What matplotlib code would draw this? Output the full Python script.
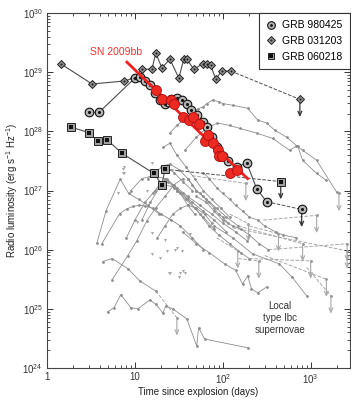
import matplotlib
matplotlib.use("Agg")
import matplotlib.pyplot as plt
import numpy as np

plt.rcParams['font.family'] = ['Liberation Sans', 'DejaVu Sans']
plt.rcParams['mathtext.fontset'] = 'custom'
plt.rcParams['mathtext.rm'] = 'Liberation Sans'
plt.rcParams['mathtext.it'] = 'Liberation Sans:italic'
plt.rcParams['font.size'] = 7

# ---- data (days, log10 luminosity) ----
# SN 2009bb
sn09_t = [17.3, 20.3, 25.6, 27.8, 35.1, 41.1, 45.7, 53.4, 62, 67.5, 77, 87.6, 90, 97.5, 120, 144]
sn09_L = [28.70, 28.54, 28.53, 28.46, 28.25, 28.19, 28.24, 28.12, 27.83, 27.93, 27.80, 27.68, 27.58, 27.58, 27.30, 27.34]
sn09_fit_t = [8.1, 192]
sn09_fit_L = [29.17, 27.20]

# GRB 980425
g98_t = [3.0, 3.9, 10, 11.5, 13, 14.8, 16.8, 19.2, 22, 24, 26, 30, 34, 39, 44, 50.6, 59, 66, 75, 87, 100, 114, 144, 187, 243, 316]
g98_L = [28.32, 28.32, 28.90, 28.92, 28.85, 28.78, 28.64, 28.53, 28.47, 28.50, 28.54, 28.56, 28.53, 28.47, 28.36, 28.27, 28.15, 28.08, 27.90, 27.73, 27.59, 27.50, 27.39, 27.47, 27.03, 26.81]
g98_lim_t = [790]
g98_lim_L = [26.68]

# GRB 031203
g03_t = [1.44, 3.25, 7.5, 9.7, 12, 15.6, 17.3, 20.3, 25, 31.6, 36, 39, 46.7, 59, 66, 73, 83, 97, 123]
g03_L = [29.14, 28.80, 28.85, 28.90, 29.05, 29.05, 29.32, 29.07, 29.22, 28.90, 29.22, 29.22, 29.05, 29.14, 29.14, 29.12, 28.88, 29.02, 29.02]
g03_lim_t = [754]
g03_lim_L = [28.54]

# GRB 060218
g06_t = [1.87, 3.0, 3.8, 4.8, 7.1, 16.4, 20.3, 22]
g06_L = [28.07, 27.98, 27.83, 27.86, 27.63, 27.29, 27.10, 27.36]
g06_lim_t = [457]
g06_lim_L = [27.15]

# local type Ibc supernovae
ibc1_t = [25, 30, 36, 44, 52, 59, 66, 77, 90, 100, 130, 192, 250, 316, 390, 533, 690, 810, 1170, 1980]
ibc1_L = [27.97, 28.10, 28.20, 28.30, 28.38, 28.41, 28.47, 28.53, 28.50, 28.47, 28.44, 28.39, 28.19, 28.14, 28.02, 27.90, 27.76, 27.68, 27.51, 26.97]
ibc2_t = [37, 50, 65, 87, 120, 156, 243, 370, 577, 710, 810, 1170, 1510]
ibc2_L = [27.68, 27.90, 28.05, 28.14, 28.10, 28.05, 27.97, 27.88, 27.68, 27.76, 27.51, 27.29, 27.17]
ibc3_t = [4.9, 5.8, 6.9, 9.0, 10.8, 14.8, 17.3, 20.8, 22.5, 27, 39, 50.6, 53, 62, 195]
ibc3_L = [24.95, 25.02, 25.24, 25.02, 25.00, 25.15, 25.08, 24.93, 25.05, 25.00, 24.83, 24.37, 24.68, 24.49, 24.34]
ibc4_t = [4.3, 5.5, 8.3, 11.4, 17.3]
ibc4_L = [25.80, 25.85, 25.68, 25.47, 25.30]
ibc5_t = [5.5, 8.3, 10.5, 13.7, 17.3, 22, 28, 35]
ibc5_L = [25.49, 25.90, 26.15, 26.49, 26.71, 26.90, 27.10, 27.20]
ibc6_t = [3.7, 4.7, 6.8, 8.5, 11, 14, 19]
ibc6_L = [26.12, 26.66, 27.19, 26.95, 26.85, 26.75, 26.60]
ibc7_t = [4.2, 6.7, 8.1, 9.5, 11, 13, 16, 20, 26, 33, 45, 60]
ibc7_L = [26.10, 26.61, 26.69, 26.73, 26.75, 26.74, 26.70, 26.60, 26.50, 26.40, 26.20, 26.00]
ibc8_t = [35, 50, 70, 105, 140, 168, 192, 212, 250, 316]
ibc8_L = [26.30, 26.10, 25.95, 25.76, 25.65, 25.42, 25.56, 25.34, 25.27, 25.37]
ibc9_t = [80, 130, 218, 440, 620, 900]
ibc9_L = [26.40, 26.20, 25.93, 25.76, 25.53, 25.22]
ibc10_t = [9, 12, 16, 22, 30, 40, 55, 75, 100, 140, 190]
ibc10_L = [27.00, 27.20, 27.25, 27.20, 27.05, 26.90, 26.75, 26.60, 26.45, 26.30, 26.15]
ibc11_t = [12, 15, 19, 24, 30, 38, 48, 60, 80]
ibc11_L = [26.50, 26.80, 27.05, 27.15, 27.00, 26.85, 26.70, 26.55, 26.35]
ibc12_t = [20, 25, 32, 40, 50, 65, 85, 110, 150]
ibc12_L = [27.40, 27.45, 27.35, 27.20, 27.00, 26.85, 26.70, 26.55, 26.40]
ibc13_t = [8, 10, 13, 17, 22, 28, 35, 45, 60, 80, 110]
ibc13_L = [26.20, 26.50, 26.80, 27.00, 27.10, 27.05, 26.95, 26.80, 26.65, 26.50, 26.30]
ibc14_t = [21, 25, 30, 38, 48, 60, 75, 95, 120]
ibc14_L = [27.73, 27.80, 27.60, 27.40, 27.20, 27.00, 26.85, 26.70, 26.55]
ibc15_t = [14, 18, 22, 28, 35, 45]
ibc15_L = [27.20, 27.35, 27.40, 27.30, 27.15, 27.00]
ibc16_t = [30, 40, 55, 70, 90, 120, 160, 200]
ibc16_L = [27.00, 26.85, 26.60, 26.40, 26.25, 26.10, 25.95, 25.85]
ibc17_t = [50, 65, 80, 100, 130, 160, 200, 260, 330]
ibc17_L = [26.90, 26.80, 26.65, 26.50, 26.40, 26.35, 26.25, 26.10, 26.00]
ibc18_t = [16, 19, 23, 27, 33, 40, 48]
ibc18_L = [26.95, 27.10, 27.20, 27.10, 26.95, 26.75, 26.60]
ibc19_t = [40, 45, 50, 55, 60, 70, 80, 90, 100, 115]
ibc19_L = [27.20, 27.10, 27.00, 26.95, 26.90, 26.80, 26.70, 26.60, 26.55, 26.45]
ibc20_t = [60, 70, 85, 100, 120, 140, 170, 200, 250, 300, 400, 480, 690]
ibc20_L = [27.30, 27.20, 27.05, 26.95, 26.85, 26.75, 26.65, 26.55, 26.50, 26.40, 26.30, 26.25, 26.20]
ibc21_t = [18, 22, 27, 33, 40, 50, 62, 75]
ibc21_L = [26.20, 26.40, 26.60, 26.70, 26.75, 26.70, 26.60, 26.45]

# gray upper limits, and the last detection they are joined to (dashed)
lim_t = [30, 183, 1170, 2100, 148, 257, 430, 810, 1000, 1510, 2600, 1700, 196, 2600]
lim_L = [24.85, 27.12, 26.58, 26.95, 25.98, 25.81, 26.27, 26.10, 25.81, 25.50, 25.98, 25.22, 26.44, 26.10]
lim_from_t = [17.3, 45, 290, None, 85, 150, 200, 150, 200, 300, 130, 900, 120, 330]
lim_from_L = [25.30, 27.25, 26.50, None, 26.20, 25.85, 26.40, 26.40, 25.85, 25.90, 26.37, 25.70, 26.60, 26.00]

# scattered single upper limits
scat_t = [15.6, 23, 25, 32.5, 35, 30, 34, 15.6, 10.5, 22, 19.2, 28.5, 24.3, 37, 32, 42, 7.3, 7.3, 15.6, 6.4, 13.7, 7.5, 7.5]
scat_L = [25.93, 25.98, 25.61, 25.61, 25.64, 26.03, 25.98, 26.29, 26.46, 26.17, 25.86, 26.00, 25.61, 25.61, 25.54, 26.27, 27.37, 27.30, 27.46, 26.95, 27.00, 27.40, 27.30]

gray = '#8e8e8e'
arrow_gray = '#a8a8a8'
dark = '#4d4d4d'

fig = plt.figure(figsize=(3.51, 4.0), dpi=100)
ax = fig.add_axes([0.134, 0.08, 0.863, 0.8875])
ax.set_xscale('log')
ax.set_yscale('log')


def lum(v):
    return 10 ** np.asarray(v, dtype=float)


def uplim(t, L, color, lw=0.8):
    ax.annotate('', xy=(t, 10 ** (L - 0.3)), xytext=(t, 10 ** L),
                arrowprops=dict(arrowstyle='->,head_length=0.45,head_width=0.2',
                                color=color, lw=lw, shrinkA=0, shrinkB=0))


ibc = [(ibc1_t, ibc1_L), (ibc2_t, ibc2_L), (ibc3_t, ibc3_L), (ibc4_t, ibc4_L),
       (ibc5_t, ibc5_L), (ibc6_t, ibc6_L), (ibc7_t, ibc7_L), (ibc8_t, ibc8_L),
       (ibc9_t, ibc9_L), (ibc10_t, ibc10_L), (ibc11_t, ibc11_L), (ibc12_t, ibc12_L),
       (ibc13_t, ibc13_L), (ibc14_t, ibc14_L), (ibc15_t, ibc15_L), (ibc16_t, ibc16_L),
       (ibc17_t, ibc17_L), (ibc18_t, ibc18_L), (ibc19_t, ibc19_L), (ibc20_t, ibc20_L),
       (ibc21_t, ibc21_L)]
for t, L in ibc:
    ax.plot(t, lum(L), '-o', color=gray, lw=0.6, ms=2.0, mew=0, zorder=2)

for i in range(len(lim_t)):
    if lim_from_t[i] is not None:
        ax.plot([lim_from_t[i], lim_t[i]], lum([lim_from_L[i], lim_L[i]]),
                '--', color=arrow_gray, lw=0.7, zorder=1)
    ax.plot(lim_t[i], lum(lim_L[i]), 'o', color=gray, ms=2.0, mew=0, zorder=2)
    uplim(lim_t[i], lim_L[i], arrow_gray)

ax.plot(scat_t, lum(scat_L), 'v', color=arrow_gray, ms=2.2, mew=0, zorder=2)

# GRB 060218
ax.plot([g06_t[-1], g06_lim_t[0]], lum([g06_L[-1], g06_lim_L[0]]), '--', color=dark, lw=0.7, zorder=3)
ax.plot(g06_t, lum(g06_L), '-', color=dark, lw=0.8, zorder=3)
ax.plot(g06_t + g06_lim_t, lum(g06_L + g06_lim_L), 's', mfc='#a0a0a0', mec='#222222', mew=0.7, ms=5.5, zorder=4)
ax.plot(g06_t + g06_lim_t, lum(g06_L + g06_lim_L), 's', color='#111111', ms=2.6, mew=0, zorder=5)
uplim(g06_lim_t[0], g06_lim_L[0], '#333333', 0.9)

# GRB 031203
ax.plot([g03_t[-1], g03_lim_t[0]], lum([g03_L[-1], g03_lim_L[0]]), '--', color=dark, lw=0.7, zorder=3)
ax.plot(g03_t, lum(g03_L), '-', color=dark, lw=0.8, zorder=3)
ax.plot(g03_t + g03_lim_t, lum(g03_L + g03_lim_L), 'D', mfc='#909090', mec='#222222', mew=0.7, ms=4.2, zorder=4)
ax.plot(g03_t + g03_lim_t, lum(g03_L + g03_lim_L), 'o', color='#222222', ms=1.5, mew=0, zorder=5)
uplim(g03_lim_t[0], g03_lim_L[0], '#333333', 0.9)

# GRB 980425
ax.plot([g98_t[-1], g98_lim_t[0]], lum([g98_L[-1], g98_lim_L[0]]), '--', color=dark, lw=0.7, zorder=3)
ax.plot(g98_t, lum(g98_L), '-', color=dark, lw=0.8, zorder=3)
ax.plot(g98_t + g98_lim_t, lum(g98_L + g98_lim_L), 'o', mfc='#b5b5b5', mec='#111111', mew=0.8, ms=6.2, zorder=4)
ax.plot(g98_t + g98_lim_t, lum(g98_L + g98_lim_L), 'o', color='#111111', ms=2.2, mew=0, zorder=5)
uplim(g98_lim_t[0], g98_lim_L[0], '#333333', 0.9)

# SN 2009bb
ax.plot(sn09_fit_t, lum(sn09_fit_L), '-', color='#ee2020', lw=2.0, zorder=6)
ax.plot(sn09_t, lum(sn09_L), 'o', mfc='#ec2a22', mec='#b01010', mew=0.6, ms=7.2, zorder=7)
ax.text(6.1, 10 ** 29.34, 'SN 2009bb', color='#f03030', fontsize=7.5, ha='center', va='center')

ax.text(444, 10 ** 24.85, 'Local\ntype Ibc\nsupernovae', color='#333333', fontsize=7,
        ha='center', va='center', linespacing=1.25)

# legend
h1, = ax.plot([], [], 'o', mfc='#b5b5b5', mec='#111111', mew=0.8, ms=5.5)
h1b, = ax.plot([], [], 'o', color='#111111', ms=2.0, mew=0)
h2, = ax.plot([], [], 'D', mfc='#909090', mec='#222222', mew=0.7, ms=4.0)
h2b, = ax.plot([], [], 'o', color='#222222', ms=1.5, mew=0)
h3, = ax.plot([], [], 's', mfc='#a0a0a0', mec='#222222', mew=0.7, ms=5.0)
h3b, = ax.plot([], [], 's', color='#111111', ms=2.4, mew=0)
leg = ax.legend([(h1, h1b), (h2, h2b), (h3, h3b)], ['GRB 980425', 'GRB 031203', 'GRB 060218'],
                loc='upper right', fancybox=False, edgecolor='#333333', framealpha=1,
                borderaxespad=0, handlelength=0.9, handletextpad=0.6, fontsize=7.5,
                borderpad=0.7, labelspacing=0.55)
leg.get_frame().set_linewidth(0.8)

ax.set_xlim(1, 2800)
ax.set_ylim(1e24, 1e30)
ax.set_xticks([1, 10, 100, 1000])
ax.set_xticklabels(['1', '10', '$10^2$', '$10^3$'])
ax.set_yticks([1e24, 1e25, 1e26, 1e27, 1e28, 1e29, 1e30])
ax.set_yticklabels(['$10^{%d}$' % e for e in range(24, 31)])
ax.tick_params(which='both', direction='in', top=True, right=True, colors='#333333', labelsize=7)
ax.tick_params(which='major', length=4.5, width=0.7, pad=3)
ax.tick_params(which='minor', length=2.5, width=0.6)
for s in ax.spines.values():
    s.set_color('#444444')
    s.set_linewidth(0.8)

ax.set_xlabel('Time since explosion (days)', fontsize=7, color='#222222', labelpad=0.5)
ax.set_ylabel('Radio luminosity (erg s$^{-1}$ Hz$^{-1}$)', fontsize=7, color='#222222', labelpad=2)

fig.savefig('out.png', dpi=100)
